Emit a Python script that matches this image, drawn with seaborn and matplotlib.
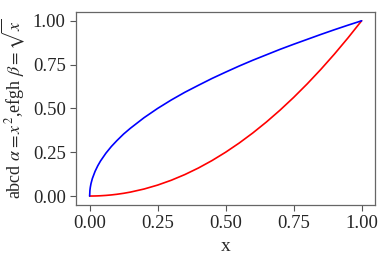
import matplotlib
matplotlib.use("Agg")
import matplotlib.pyplot as plt
import seaborn as sns
import pandas as pd

x_vals = [0.0, 0.001, 0.0025, 0.005, 0.01, 0.02, 0.03, 0.04, 0.06, 0.08, 0.1, 0.125, 0.15, 0.2, 0.25, 0.3, 0.35,
          0.4, 0.45, 0.5, 0.55, 0.6, 0.65, 0.7, 0.75, 0.8, 0.85, 0.9, 0.95, 1.0]
alpha_vals = [0.0, 0.0, 0.0, 0.0, 0.0001, 0.0004, 0.0009, 0.0016, 0.0036, 0.0064, 0.01, 0.0156, 0.0225, 0.04, 0.0625,
              0.09, 0.1225, 0.16, 0.2025, 0.25, 0.3025, 0.36, 0.4225, 0.49, 0.5625, 0.64, 0.7225, 0.81, 0.9025, 1.0]
beta_vals = [0.0, 0.032, 0.05, 0.071, 0.1, 0.141, 0.173, 0.2, 0.245, 0.283, 0.316, 0.354, 0.387, 0.447, 0.5,
             0.548, 0.592, 0.632, 0.671, 0.707, 0.742, 0.775, 0.806, 0.837, 0.866, 0.894, 0.922, 0.949, 0.975, 1.0]

sns.set_style("ticks")
plt.rcParams['font.family'] = ['Liberation Serif', 'DejaVu Serif']
plt.rcParams['mathtext.fontset'] = 'stix'

df = pd.DataFrame({"x": x_vals, "alpha": alpha_vals, "beta": beta_vals})

fig, ax = plt.subplots(figsize=(3.86, 2.56), dpi=100)
sns.lineplot(data=df, x="x", y="alpha", color="red", linewidth=1.2, ax=ax)
sns.lineplot(data=df, x="x", y="beta", color="blue", linewidth=1.2, ax=ax)
ax.set_xticks([0, 0.25, 0.5, 0.75, 1.0])
ax.set_yticks([0, 0.25, 0.5, 0.75, 1.0])
ax.tick_params(labelsize=13.5, color="#555555", length=4)
ax.set_xlabel("x", fontsize=14)
ax.set_ylabel(r"abcd $\alpha = x^2$,efgh $\beta = \sqrt{x}$", fontsize=13)
for s in ax.spines.values():
    s.set_color("#666666")
    s.set_linewidth(0.9)
fig.subplots_adjust(left=0.197, right=0.972, top=0.953, bottom=0.2)
fig.savefig("out.png", dpi=100)
